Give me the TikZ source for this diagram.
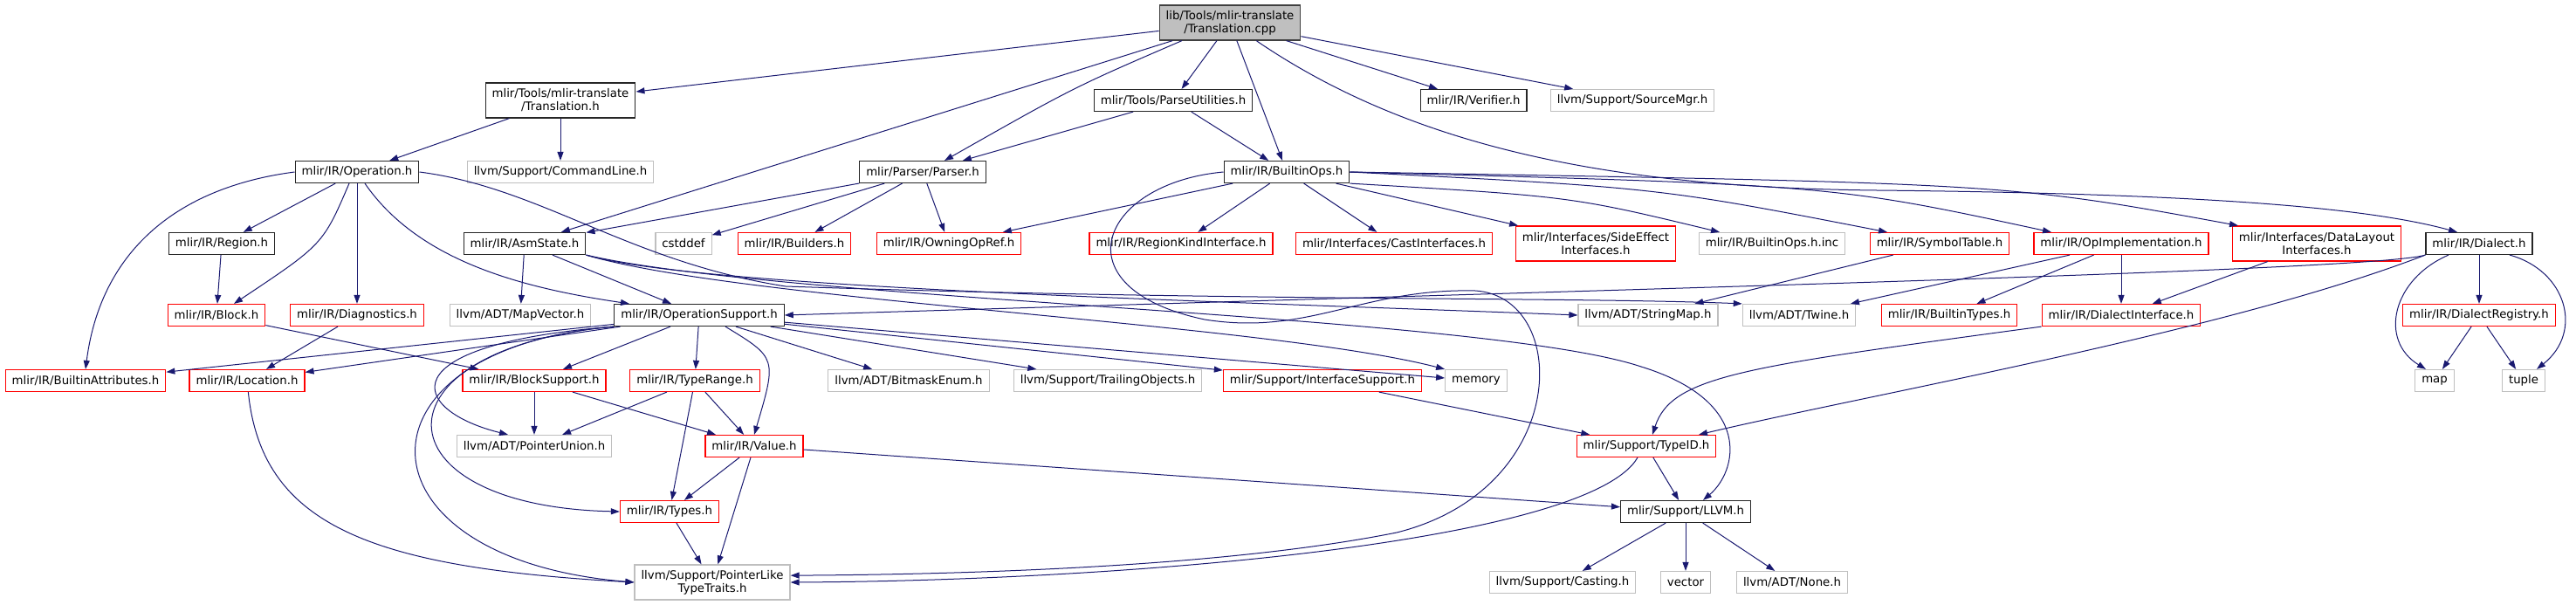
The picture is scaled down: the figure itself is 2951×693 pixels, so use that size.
\documentclass[tikz,border=0pt]{standalone}
\usepackage{fontspec}
\setmainfont{DejaVu Sans}
\usepackage{tikz}
\usetikzlibrary{arrows.meta}
\definecolor{navy}{HTML}{191970}
\definecolor{lightframe}{HTML}{BFBFBF}
\tikzset{
  >={Triangle[length=10pt,width=7pt]},
  inc/.style={draw, fill=white, line width=1.2pt, align=center,
              font=\fontsize{13.3}{15}\selectfont, inner xsep=7.5pt, inner ysep=3pt,
              minimum height=25pt},
  doc/.style={inc, draw=black!85},
  part/.style={inc, draw=red},
  ext/.style={inc, draw=lightframe},
  src/.style={inc, draw=black!75, fill=lightframe},
  tall/.style={minimum height=40pt},
  dep/.style={->, navy, line width=1pt}
}
\begin{document}
\begin{tikzpicture}[x=1pt,y=-1pt]
\useasboundingbox (0,0) rectangle (2951,693);
\node[src, tall] (root) at (1409,26) {lib/Tools/mlir-translate\\/Translation.cpp};
\node[doc, tall] (trh) at (642,115) {mlir/Tools/mlir-translate\\/Translation.h};
\node[doc] (pu) at (1344,115) {mlir/Tools/ParseUtilities.h};
\node[doc] (ver) at (1688,115) {mlir/IR/Verifier.h};
\node[ext] (smgr) at (1870,115) {llvm/Support/SourceMgr.h};
\node[doc] (op) at (409,197) {mlir/IR/Operation.h};
\node[ext] (cl) at (642,197) {llvm/Support/CommandLine.h};
\node[doc] (parser) at (1057,197) {mlir/Parser/Parser.h};
\node[doc] (bops) at (1474,197) {mlir/IR/BuiltinOps.h};
\node[doc] (region) at (254,279) {mlir/IR/Region.h};
\node[doc] (asm) at (601,279) {mlir/IR/AsmState.h};
\node[ext] (cstd) at (783,279) {cstddef};
\node[part] (bld) at (910,279) {mlir/IR/Builders.h};
\node[part] (oor) at (1087,279) {mlir/IR/OwningOpRef.h};
\node[part] (rki) at (1353,279) {mlir/IR/RegionKindInterface.h};
\node[part] (cast) at (1597,279) {mlir/Interfaces/CastInterfaces.h};
\node[part, tall] (side) at (1828,279) {mlir/Interfaces/SideEffect\\Interfaces.h};
\node[ext] (binc) at (2030,279) {mlir/IR/BuiltinOps.h.inc};
\node[part] (symt) at (2222,279) {mlir/IR/SymbolTable.h};
\node[part] (opimpl) at (2430,279) {mlir/IR/OpImplementation.h};
\node[part, tall] (dl) at (2654,279) {mlir/Interfaces/DataLayout\\Interfaces.h};
\node[doc] (dial) at (2840,279) {mlir/IR/Dialect.h};
\node[part] (block) at (248,361) {mlir/IR/Block.h};
\node[part] (diag) at (409,361) {mlir/IR/Diagnostics.h};
\node[ext] (mapv) at (596,361) {llvm/ADT/MapVector.h};
\node[doc] (opsup) at (801,361) {mlir/IR/OperationSupport.h};
\node[ext] (smap) at (1888,361) {llvm/ADT/StringMap.h};
\node[ext] (twine) at (2061,361) {llvm/ADT/Twine.h};
\node[part] (btypes) at (2233,361) {mlir/IR/BuiltinTypes.h};
\node[part] (dint) at (2430,361) {mlir/IR/DialectInterface.h};
\node[part] (dreg) at (2840,361) {mlir/IR/DialectRegistry.h};
\node[part] (battr) at (98,436) {mlir/IR/BuiltinAttributes.h};
\node[part] (loc) at (283,436) {mlir/IR/Location.h};
\node[part] (bsup) at (612,436) {mlir/IR/BlockSupport.h};
\node[part] (trange) at (796,436) {mlir/IR/TypeRange.h};
\node[ext] (bmask) at (1041,436) {llvm/ADT/BitmaskEnum.h};
\node[ext] (trail) at (1269,436) {llvm/Support/TrailingObjects.h};
\node[part] (isup) at (1515,436) {mlir/Support/InterfaceSupport.h};
\node[ext] (mem) at (1691,436) {memory};
\node[ext] (map) at (2789,436) {map};
\node[ext] (tuple) at (2891,436) {tuple};
\node[ext] (punion) at (612,511) {llvm/ADT/PointerUnion.h};
\node[part] (value) at (864,511) {mlir/IR/Value.h};
\node[part] (typeid) at (1886,511) {mlir/Support/TypeID.h};
\node[part] (types) at (767,586) {mlir/IR/Types.h};
\node[doc] (llvm) at (1931,586) {mlir/Support/LLVM.h};
\node[ext, tall] (ptt) at (816,667) {llvm/Support/PointerLike\\TypeTraits.h};
\node[ext] (casting) at (1790,667) {llvm/Support/Casting.h};
\node[ext] (vec) at (1931,667) {vector};
\node[ext] (none) at (2053,667) {llvm/ADT/None.h};
\draw[dep] (root) -- (trh);
\draw[dep] (root) -- (asm);
\draw[dep] ([xshift=-55pt]root.south) .. controls (1230,100) .. ([xshift=25pt]parser.north);
\draw[dep] (root) -- (pu);
\draw[dep] (root) -- (bops);
\draw[dep] (root) -- (ver);
\draw[dep] (root) -- (smgr);
\draw[dep] (root) .. controls (1620,170) and (1850,215) .. (2150,218) .. controls (2550,222) and (2720,240) .. ([xshift=-25pt]dial.north);
\draw[dep] (trh) -- (op);
\draw[dep] (trh) -- (cl);
\draw[dep] (pu) -- (parser);
\draw[dep] (pu) -- (bops);
\draw[dep] (parser) -- (asm);
\draw[dep] (parser) -- (cstd);
\draw[dep] (parser) -- (bld);
\draw[dep] (parser) -- (oor);
\draw[dep] (op.west) .. controls (200,215) and (115,290) .. (battr.north);
\draw[dep] (op) -- (region);
\draw[dep] ([xshift=-9pt]op.south) .. controls (370,280) .. ([xshift=20pt]block.north);
\draw[dep] (op) -- (diag);
\draw[dep] ([xshift=9pt]op.south) .. controls (480,300) and (600,330) .. ([xshift=-80pt]opsup.north);
\draw[dep] (op.east) .. controls (620,215) and (720,300) .. (900,328) .. controls (1400,345) and (1800,340) .. (twine.north west);
\draw[dep] (region) -- (block);
\draw[dep] (block) -- (bsup);
\draw[dep] (diag) -- (loc);
\draw[dep] (asm) -- (mapv);
\draw[dep] (asm) -- (opsup);
\draw[dep] (asm.south east) .. controls (800,330) and (1400,345) .. (smap.west);
\draw[dep] (asm.south east) .. controls (850,345) and (1450,370) .. (mem.north west);
\draw[dep] (asm.south east) .. controls (900,345) and (1700,360) .. (1880,420) .. controls (2010,460) and (1990,540) .. ([xshift=20pt]llvm.north);
\draw[dep] (opsup) -- (battr);
\draw[dep] (opsup) -- (loc);
\draw[dep] (opsup.south west) .. controls (440,395) and (470,470) .. ([xshift=-30pt]punion.north);
\draw[dep] (opsup.south west) .. controls (420,400) and (430,580) .. (types.west);
\draw[dep] (opsup.south west) .. controls (395,400) and (400,640) .. (ptt.west);
\draw[dep] (opsup) -- (bsup);
\draw[dep] (opsup) -- (trange);
\draw[dep] ([xshift=30pt]opsup.south) .. controls (890,410) .. (value.north);
\draw[dep] (opsup) -- (bmask);
\draw[dep] (opsup) -- (trail);
\draw[dep] (opsup) -- (isup);
\draw[dep] (opsup) -- (mem);
\draw[dep] (dial.south west) .. controls (2720,310) and (1900,330) .. (opsup.east);
\draw[dep] (dial.south west) .. controls (2550,380) and (2150,450) .. ([xshift=60pt]typeid.north);
\draw[dep] (dial) -- (dreg);
\draw[dep] ([xshift=-35pt]dial.south) .. controls (2740,320) and (2725,390) .. ([xshift=-10pt]map.north);
\draw[dep] ([xshift=35pt]dial.south) .. controls (2940,310) and (2960,380) .. ([xshift=15pt]tuple.north);
\draw[dep] (dreg) -- (map);
\draw[dep] (dreg) -- (tuple);
\draw[dep] (dl) -- (dint);
\draw[dep] (opimpl) -- (twine);
\draw[dep] (opimpl) -- (btypes);
\draw[dep] (opimpl) -- (dint);
\draw[dep] (symt) -- (smap);
\draw[dep] (dint.south west) .. controls (2000,420) and (1915,430) .. ([xshift=7pt]typeid.north);
\draw[dep] (isup) -- (typeid);
\draw[dep] (typeid) -- (llvm);
\draw[dep] ([xshift=-10pt]typeid.south) .. controls (1820,620) and (1300,665) .. (ptt.east);
\draw[dep] (bops) -- (oor);
\draw[dep] (bops) -- (rki);
\draw[dep] (bops) -- (cast);
\draw[dep] (bops) -- (side);
\draw[dep] (bops.south east) .. controls (1800,225) .. ([xshift=-60pt]binc.north);
\draw[dep] (bops.east) .. controls (1900,215) .. ([xshift=-60pt]symt.north);
\draw[dep] (bops.east) .. controls (2100,212) .. ([xshift=-80pt]opimpl.north);
\draw[dep] (bops.east) .. controls (2300,210) .. ([xshift=-90pt]dl.north);
\draw[dep] (bops.west) .. controls (1260,210) and (1210,330) .. (1380,366) .. controls (1500,385) and (1560,330) .. (1690,333) .. controls (1800,340) and (1800,560) .. (1600,610) .. controls (1400,650) and (1100,658) .. (ptt.5);
\draw[dep] (value) -- (types);
\draw[dep] (value) -- (ptt);
\draw[dep] (value) -- (llvm);
\draw[dep] (trange) -- (punion);
\draw[dep] (trange) -- (value);
\draw[dep] (trange) -- (types);
\draw[dep] (bsup) -- (punion);
\draw[dep] (bsup) -- (value);
\draw[dep] (types) -- (ptt);
\draw[dep] (loc) .. controls (300,600) and (420,650) .. (ptt.west);
\draw[dep] (llvm) -- (casting);
\draw[dep] (llvm) -- (vec);
\draw[dep] (llvm) -- (none);
\end{tikzpicture}
\end{document}
